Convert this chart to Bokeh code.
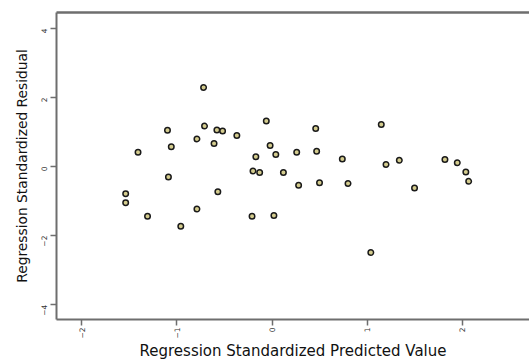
import math
from bokeh.plotting import figure
from bokeh.models import LinearAxis, FixedTicker, Range1d
from bokeh.embed import file_html
from bokeh.resources import INLINE

predicted = [-0.72, -1.10, -0.71, -0.58, -0.52, -0.37, -0.79, -0.61, -1.06, -1.41,
             -1.09, -0.57, -1.54, -1.54, -1.31, -0.79, -0.96, -0.06, 0.46, -0.02,
             0.04, -0.17, 0.26, 0.47, 0.74, -0.20, -0.13, 0.12, 0.28, 0.50,
             0.80, -0.21, 0.02, 1.15, 1.20, 1.34, 1.50, 1.82, 1.95, 2.04,
             2.07, 1.04]
residual = [2.29, 1.05, 1.17, 1.06, 1.03, 0.90, 0.80, 0.67, 0.57, 0.41,
            -0.30, -0.73, -0.79, -1.05, -1.44, -1.23, -1.73, 1.32, 1.10, 0.61,
            0.35, 0.28, 0.41, 0.44, 0.22, -0.13, -0.17, -0.17, -0.54, -0.47,
            -0.49, -1.44, -1.42, 1.22, 0.06, 0.18, -0.62, 0.20, 0.11, -0.16,
            -0.43, -2.49]
x_ticks = [-2, -1, 0, 1, 2]
y_ticks = [-4, -2, 0, 2, 4]
x_title = "Regression Standardized Predicted Value"
y_title = "Regression Standardized Residual"

FONT = "DejaVu Sans"
AX = "#6e6e6e"

p = figure(width=529, height=362, output_backend="svg", toolbar_location=None,
           x_range=Range1d(-2.268, 2.71), y_range=Range1d(-4.43, 4.46),
           min_border_left=56, min_border_right=0, min_border_top=12,
           min_border_bottom=42, x_axis_location=None, y_axis_location=None)
p.outline_line_color = None
p.xgrid.visible = False
p.ygrid.visible = False
p.background_fill_color = "white"
p.border_fill_color = "white"

xa = LinearAxis(ticker=FixedTicker(ticks=x_ticks), axis_label=x_title)
ya = LinearAxis(ticker=FixedTicker(ticks=y_ticks), axis_label=y_title)
for a in (xa, ya):
    a.axis_line_color = AX
    a.axis_line_width = 2
    a.major_tick_line_color = AX
    a.major_tick_line_width = 1.5
    a.major_tick_out = 6
    a.major_tick_in = 0
    a.minor_tick_line_color = None
    a.major_label_text_font = FONT
    a.major_label_text_font_size = "7.5px"
    a.major_label_text_color = "#333333"
    a.axis_label_text_font = FONT
    a.axis_label_text_font_style = "normal"
    a.axis_label_text_color = "#111111"
    a.major_label_orientation = math.pi / 2
xa.axis_label_text_font_size = "15px"
ya.axis_label_text_font_size = "13.8px"
xa.major_label_standoff = 2
xa.axis_label_standoff = 0
ya.major_label_standoff = 6
ya.axis_label_standoff = 6
p.add_layout(xa, "below")
p.add_layout(ya, "left")

top = LinearAxis(ticker=FixedTicker(ticks=[]))
top.axis_line_color = AX
top.axis_line_width = 2.5
top.major_tick_line_color = None
top.minor_tick_line_color = None
top.major_label_text_font_size = "0px"
p.add_layout(top, "above")

p.scatter(predicted, residual, marker="circle", size=5.5,
          fill_color="#d4cc8e", line_color="#1a1a1a", line_width=1.5)

open("out.html", "w").write(file_html(p, INLINE))
